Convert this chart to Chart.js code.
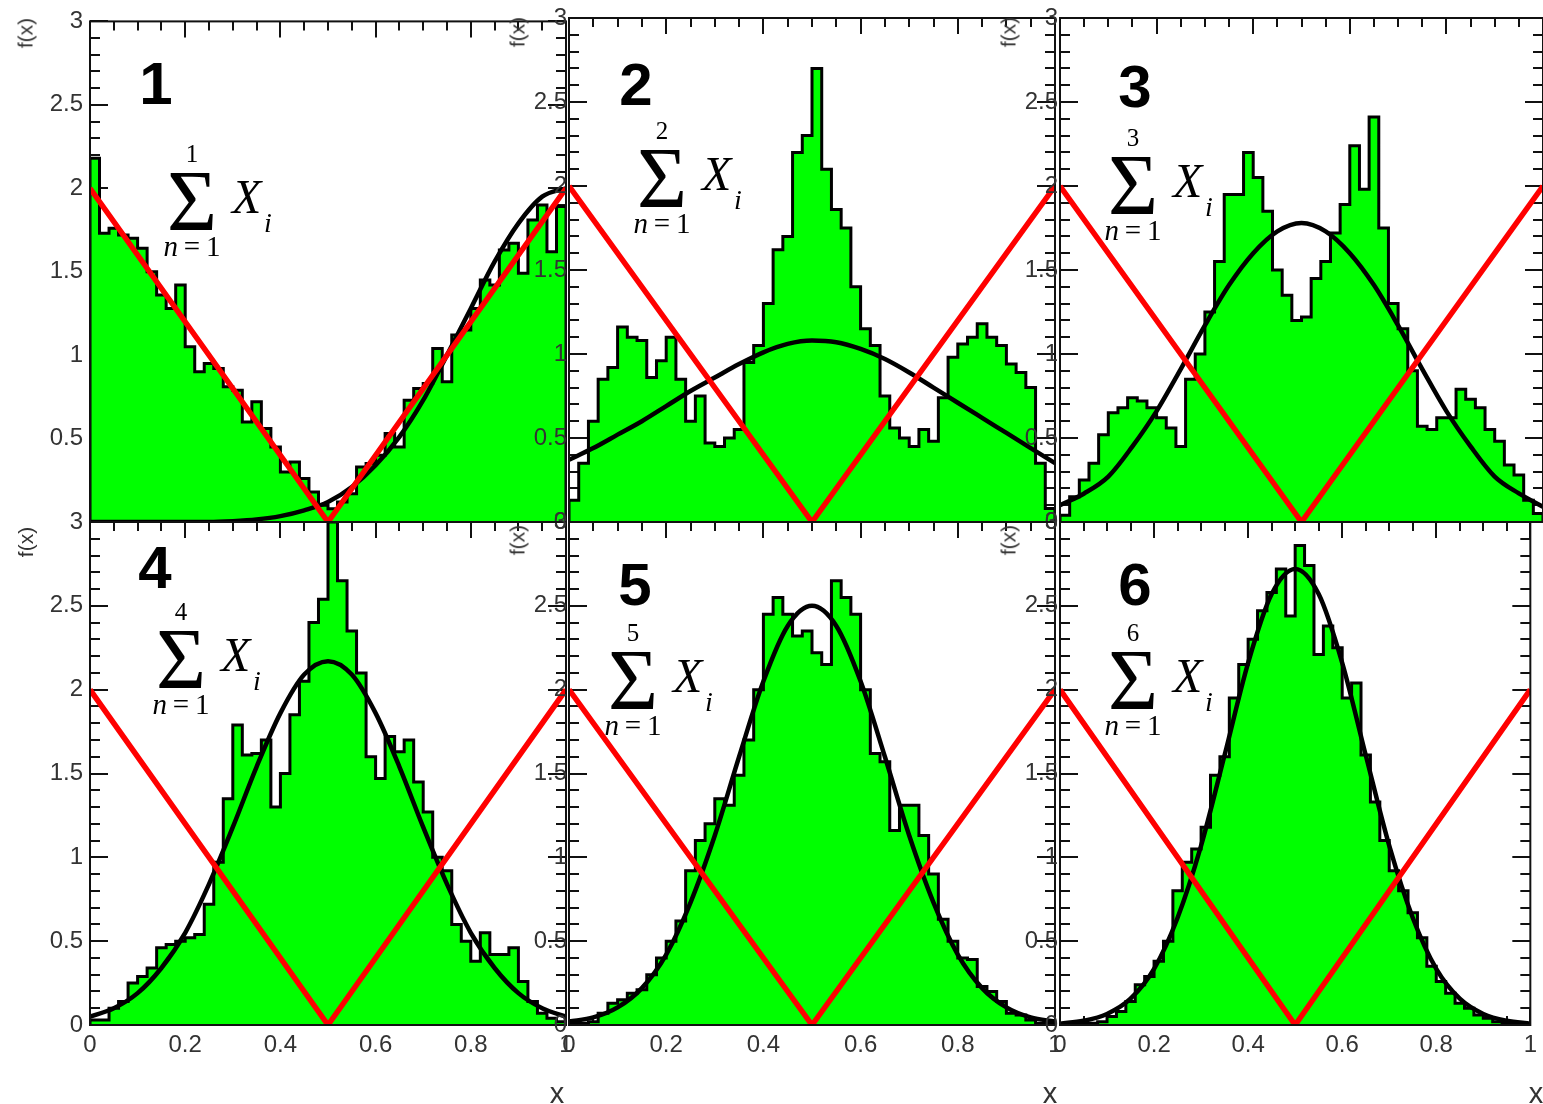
<!DOCTYPE html>
<html>
<head>
<meta charset="utf-8">
<script src="https://cdn.jsdelivr.net/npm/chart.js"></script>
<style>
body { margin: 0; background: #fff; overflow: hidden; }
#page { position: relative; width: 1543px; height: 1104px; overflow: hidden; font-family: 'Liberation Sans', Arial, sans-serif; }
#page canvas { position: absolute; left: 0; top: 0; }
.lbl { position: absolute; white-space: nowrap; line-height: 1; }
.num { font-weight: bold; font-size: 60px; color: #000; transform: translate(-50%, -50%); }
.fx { font-size: 21px; color: #333; transform: translate(-50%, -50%) rotate(-90deg); }
.xt { font-size: 29px; color: #333; transform: translate(-50%, -50%); }
.sum { position: absolute; font-family: 'Liberation Serif', 'DejaVu Serif', serif; color: #000; }
.sum span { position: absolute; line-height: 1; white-space: nowrap; }
</style>
</head>
<body>
<div id="page"></div>
<script>
// histogram bins: 50 bins of width 0.02 on [0, 1]
const binWidth = 0.02;
const hist1 = [2.18,1.73,1.76,1.72,1.70,1.64,1.50,1.36,1.28,1.42, 1.05,0.90,0.95,0.92,0.81,0.79,0.60,0.72,0.56,0.45,
               0.30,0.36,0.26,0.18,0.10,0.08,0.12,0.17,0.33,0.35, 0.40,0.53,0.45,0.73,0.80,0.83,1.04,0.84,1.12,1.15,
               1.28,1.45,1.42,1.63,1.67,1.49,1.81,1.90,1.62,1.89];
const hist2 = [0.13,0.35,0.60,0.85,0.92,1.16,1.10,1.08,0.86,0.96, 1.10,0.85,0.60,0.75,0.47,0.45,0.50,0.55,0.95,1.05,
               1.30,1.62,1.70,2.20,2.30,2.70,2.10,1.86,1.75,1.40, 1.15,1.05,0.75,0.56,0.50,0.45,0.55,0.48,0.74,0.98,
               1.06,1.10,1.18,1.10,1.05,0.94,0.89,0.80,0.35,0.08];
const hist3 = [0.04,0.15,0.25,0.35,0.52,0.65,0.68,0.74,0.72,0.68, 0.62,0.56,0.45,0.85,1.00,1.25,1.55,1.95,1.95,2.20,
               2.05,1.85,1.50,1.35,1.20,1.22,1.45,1.55,1.72,1.89, 2.24,1.98,2.41,1.75,1.30,1.15,0.90,0.57,0.55,0.62,
               0.62,0.79,0.73,0.68,0.55,0.48,0.34,0.28,0.13,0.05];
const hist4 = [0.03,0.03,0.10,0.14,0.25,0.29,0.34,0.46,0.48,0.50, 0.52,0.54,0.72,0.97,1.35,1.79,1.61,1.62,1.70,1.30,
               1.50,1.85,2.05,2.40,2.54,3.00,2.65,2.35,2.10,1.60, 1.47,1.72,1.63,1.70,1.45,1.27,1.00,0.92,0.60,0.50,
               0.38,0.55,0.42,0.42,0.46,0.26,0.14,0.07,0.04,0.02];
const hist5 = [0.01,0.01,0.02,0.07,0.13,0.15,0.19,0.21,0.30,0.40, 0.50,0.62,0.92,1.10,1.20,1.35,1.31,1.49,1.70,2.00,
               2.45,2.55,2.45,2.32,2.35,2.22,2.15,2.65,2.55,2.45, 2.00,1.62,1.57,1.16,1.31,1.31,1.13,0.90,0.63,0.50,
               0.40,0.39,0.23,0.20,0.14,0.07,0.06,0.03,0.01,0.01];
const hist6 = [0,0,0.01,0.01,0.02,0.05,0.08,0.14,0.24,0.29, 0.38,0.50,0.80,0.97,1.05,1.18,1.49,1.60,1.95,2.15,
               2.30,2.47,2.58,2.72,2.44,2.86,2.74,2.21,2.38,2.25, 1.95,2.04,1.61,1.33,1.10,0.92,0.80,0.67,0.52,0.35,
               0.26,0.19,0.13,0.10,0.06,0.04,0.02,0.01,0,0];

// fitted curves, sampled every 0.05
const curveX = [0,0.05,0.1,0.15,0.2,0.25,0.3,0.35,0.4,0.45,0.5,0.55,0.6,0.65,0.7,0.75,0.8,0.85,0.9,0.95,1];
const curve1 = [0,0,0,0,0,0,0.005,0.015,0.035,0.07,0.12,0.21,0.34,0.51,0.73,1.0,1.28,1.56,1.79,1.95,2.0];
const curve2 = [0.37,0.44,0.52,0.60,0.69,0.78,0.86,0.94,1.01,1.06,1.08,1.07,1.03,0.97,0.89,0.80,0.71,0.62,0.53,0.44,0.35];
const curve3 = [0.10,0.17,0.27,0.45,0.66,0.91,1.17,1.41,1.60,1.73,1.78,1.73,1.60,1.41,1.17,0.91,0.66,0.45,0.27,0.17,0.09];
const curve4 = [0.05,0.10,0.19,0.34,0.55,0.84,1.18,1.54,1.86,2.09,2.17,2.09,1.86,1.54,1.18,0.84,0.55,0.34,0.19,0.10,0.05];
const curve5 = [0.02,0.045,0.105,0.22,0.42,0.73,1.13,1.60,2.05,2.38,2.50,2.38,2.05,1.60,1.13,0.73,0.42,0.22,0.105,0.045,0.02];
const curve6 = [0.008,0.025,0.066,0.157,0.335,0.64,1.07,1.61,2.16,2.57,2.72,2.57,2.16,1.61,1.07,0.64,0.335,0.157,0.066,0.025,0.008];

// the red V
const vX = [0, 0.5, 1];
const vY = [2, 0, 2];

const xTickLabels = [0, 0.2, 0.4, 0.6, 0.8, 1];
const yTickLabels = [0, 0.5, 1, 1.5, 2, 2.5, 3];
const panelNames = ['1', '2', '3', '4', '5', '6'];

const hists = [hist1, hist2, hist3, hist4, hist5, hist6];
const curves = [curve1, curve2, curve3, curve4, curve5, curve6];

// page layout
const W = 1543, H = 1104;
const yAxisW = 90, xAxisH = 40;
const colBounds = [[90, 566], [569, 1055], [1060, 1543]];
const rowBounds = [[18, 522], [522, 1025]];
const numPos = [[156, 84], [636, 85], [1135, 87], [155, 568], [635, 585], [1135, 585]];
const sumPos = [[192, 153], [662, 130], [1133, 137], [181, 611], [633, 632], [1133, 632]];
const fxPos = [[25, 33], [517, 32], [1008, 32], [25, 542], [517, 540], [1008, 540]];
const xTitlePos = [[557, 1093], [1050, 1093], [1536, 1093]];

Chart.defaults.font.family = "'Liberation Sans', Arial, sans-serif";

// ROOT style frame: inward ticks on all four sides
const rootFrame = {
    id: 'rootFrame',
    beforeDatasetsDraw(chart) {
        const { ctx, chartArea: a, scales: { x, y } } = chart;
        ctx.save();
        ctx.strokeStyle = '#111';
        ctx.lineWidth = 2;
        ctx.beginPath();
        for (let i = 0; i <= 20; i++) {
            const px = Math.round(x.getPixelForValue(i * 0.05));
            const len = i % 4 === 0 ? 16 : 9;
            ctx.moveTo(px, a.top); ctx.lineTo(px, a.top + len);
            ctx.moveTo(px, a.bottom); ctx.lineTo(px, a.bottom - len);
        }
        for (let i = 0; i <= 30; i++) {
            const py = Math.round(y.getPixelForValue(i * 0.1));
            const len = i % 5 === 0 ? 18 : 10;
            ctx.moveTo(a.left, py); ctx.lineTo(a.left + len, py);
            ctx.moveTo(a.right, py); ctx.lineTo(a.right - len, py);
        }
        ctx.stroke();
        ctx.restore();
    },
    afterDatasetsDraw(chart) {
        const { ctx, chartArea: a } = chart;
        ctx.save();
        ctx.strokeStyle = '#111';
        ctx.lineWidth = 2;
        ctx.strokeRect(a.left, a.top, a.right - a.left, a.bottom - a.top);
        ctx.restore();
    }
};

function stepPoints(vals) {
    const pts = [{ x: 0, y: 0 }];
    vals.forEach((v, i) => pts.push({ x: i * binWidth, y: v }));
    pts.push({ x: 1, y: vals[vals.length - 1] });
    pts.push({ x: 1, y: 0 });
    return pts;
}

const page = document.getElementById('page');

function makePanel(i) {
    const c = i % 3, r = Math.floor(i / 3);
    const [L, R] = colBounds[c];
    const [T, B] = rowBounds[r];
    const cv = document.createElement('canvas');
    cv.width = W; cv.height = H;
    cv.style.width = W + 'px'; cv.style.height = H + 'px';
    page.appendChild(cv);

    new Chart(cv.getContext('2d'), {
        type: 'line',
        data: {
            datasets: [
                {
                    data: vX.map((x, k) => ({ x: x, y: vY[k] })),
                    borderColor: '#ff0000', borderWidth: 5.5, pointRadius: 0, order: 0
                },
                {
                    data: curveX.map((x, k) => ({ x: x, y: curves[i][k] })),
                    borderColor: '#000', borderWidth: 4.5, pointRadius: 0,
                    cubicInterpolationMode: 'monotone', order: 1
                },
                {
                    data: stepPoints(hists[i]),
                    borderColor: '#000', borderWidth: 3, backgroundColor: '#00ff00',
                    fill: 'origin', stepped: true, pointRadius: 0, order: 2
                }
            ]
        },
        options: {
            responsive: false,
            animation: false,
            events: [],
            layout: {
                autoPadding: false,
                padding: { left: L - yAxisW, right: W - R, top: T, bottom: H - B - xAxisH }
            },
            plugins: { legend: { display: false }, tooltip: { enabled: false } },
            scales: {
                x: {
                    type: 'linear', min: 0, max: 1,
                    afterFit: s => { s.height = xAxisH; },
                    afterBuildTicks: s => { s.ticks = xTickLabels.map(v => ({ value: v })); },
                    grid: { display: false, drawTicks: false },
                    border: { display: false },
                    ticks: {
                        display: r === 1, padding: 6, maxRotation: 0, autoSkip: false,
                        color: '#333', font: { size: 24 },
                        callback: v => String(v)
                    }
                },
                y: {
                    type: 'linear', min: 0, max: 3,
                    afterFit: s => { s.width = yAxisW; },
                    afterBuildTicks: s => { s.ticks = yTickLabels.map(v => ({ value: v })); },
                    grid: { display: false, drawTicks: false },
                    border: { display: false },
                    ticks: {
                        padding: c === 0 ? 7 : 2, autoSkip: false,
                        color: '#333', font: { size: 24 },
                        callback: v => (r === 0 && c === 0 && v === 0) ? '' : String(v)
                    }
                }
            }
        },
        plugins: [rootFrame]
    });
}

for (let i = 0; i < 6; i++) makePanel(i);

// text overlays
function addText(cls, txt, x, y) {
    const d = document.createElement('div');
    d.className = 'lbl ' + cls;
    d.textContent = txt;
    d.style.left = x + 'px';
    d.style.top = y + 'px';
    page.appendChild(d);
}

panelNames.forEach((name, i) => {
    addText('num', name, numPos[i][0], numPos[i][1]);
    addText('fx', 'f(x)', fxPos[i][0], fxPos[i][1]);

    const s = document.createElement('div');
    s.className = 'sum';
    s.style.left = sumPos[i][0] + 'px';
    s.style.top = sumPos[i][1] + 'px';
    s.innerHTML =
        '<span style="left:0;top:0;transform:translate(-50%,-50%);font-size:25px">' + name + '</span>' +
        '<span style="left:0;top:48px;transform:translate(-50%,-50%);font-size:86px">\u03A3</span>' +
        '<span style="left:0;top:93px;transform:translate(-50%,-50%);font-size:29px"><i>n</i>\u2009=\u20091</span>' +
        '<span style="left:40px;top:44px;transform:translate(0,-50%);font-size:48px;font-style:italic">X</span>' +
        '<span style="left:72px;top:70px;transform:translate(0,-50%);font-size:28px;font-style:italic">i</span>';
    page.appendChild(s);
});

xTitlePos.forEach(p => addText('xt', 'x', p[0], p[1]));
</script>
</body>
</html>
